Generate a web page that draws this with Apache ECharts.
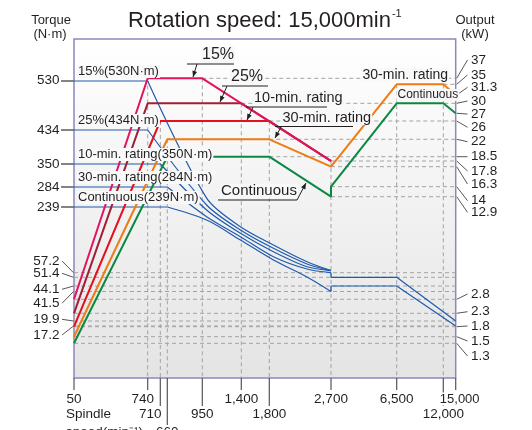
<!DOCTYPE html>
<html>
<head>
<meta charset="utf-8">
<script src="https://cdn.jsdelivr.net/npm/echarts@6/dist/echarts.min.js"></script>
<style>
html, body { margin: 0; padding: 0; background: #fff; }
#main { width: 532px; height: 430px; }
</style>
</head>
<body>
<div id="main"></div>
<script>
// ticks (spindle speed min-1, torque N·m, output kW)
var speedTicks = [50, 740, 710, 660, 950, 1400, 1800, 2700, 6500, 12000, 15000];
var torqueTicks = [530, 434, 350, 284, 239, 57.2, 51.4, 44.1, 41.5, 19.9, 17.2];
var outputTicks = [37, 35, 31.3, 30, 27, 26, 22, 18.5, 17.8, 16.3, 14, 12.9, 2.8, 2.3, 1.8, 1.5, 1.3];

var ratingNames = ['15%', '25%', '10-min. rating', '30-min. rating', 'Continuous'];

// output curves [speed, kW]
var output15 = [[50, 2.8], [740, 37], [950, 37], [2700, 17.8]];
var output25 = [[50, 2.3], [740, 30], [1400, 30], [2700, 17.8]];
var output10min = [[50, 1.8], [710, 26], [1800, 26], [2700, 17.8]];
var output30min = [[50, 1.5], [660, 22], [1800, 22], [2700, 16.3], [6500, 35], [12000, 35], [15000, 31.3]];
var outputCont = [[50, 1.3], [660, 18.5], [1800, 18.5], [2700, 12.9], [2700, 14], [6500, 30], [12000, 30], [15000, 27]];

// torque curves [speed, N·m], low winding
var torque15 = [[50, 530], [740, 530], [1000, 259], [1390, 184.5], [1860, 134], [2350, 87.6], [2700, 63]];
var torque25 = [[50, 434], [740, 434], [1000, 243.5], [1390, 175.4], [1860, 124.7], [2350, 81.3], [2700, 63]];
var torque10min = [[50, 350], [710, 350], [1000, 230.7], [1390, 166.2], [1860, 115.3], [2350, 73.8], [2700, 63]];
var torque30min = [[50, 284], [660, 284], [1000, 212.2], [1390, 156.8], [1860, 101.5], [2350, 67.5], [2700, 57.2]];
var torqueCont = [[50, 239], [660, 239], [1000, 203], [1390, 147.7], [1860, 92.3], [2350, 51.8], [2700, 41.5]];
// high winding
var torque30minHigh = [[2700, 57.2], [2700, 51.4], [6500, 51.4], [15000, 19.9]];
var torqueContHigh = [[2700, 41.5], [2700, 44.1], [6500, 44.1], [15000, 17.2]];

// dashed guides
var outputGuides = [[950, 37], [12000, 35], [1400, 30], [1800, 26], [1800, 22], [1800, 18.5], [2700, 17.8], [2700, 16.3], [2700, 14], [2700, 12.9], [50, 2.8], [50, 2.3], [50, 1.8], [50, 1.5], [50, 1.3]];
var torqueGuides = [57.2, 51.4, 44.1, 41.5, 19.9, 17.2];
var speedGuides = [[740, 37], [710, 26], [660, 22], [950, 37], [1400, 30], [1800, 26], [2700, 17.8], [6500, 35], [12000, 35]];

// the chart is not to scale: where each tick sits on the frame
var speedSlot = [0, 73.7, 86.3, 93.3, 128.3, 167.3, 195.3, 257, 322.7, 369.3, 381.7];
var torqueSlot = [297, 248, 214, 191, 171, 105.3, 100.7, 92, 86.5, 57, 52];
var outputSlot = [299.7, 293.7, 283, 274.7, 264.7, 257, 238.7, 221.3, 217, 211.3, 191.3, 181.3, 78.7, 64.7, 51.3, 41.3, 34.7];

// label placement
var speedRow = [0, 0, 1, 2, 1, 0, 1, 0, 0, 1, 0];
var speedDx = [0, -5, -10, 0, 0, 0, 0, 0, 0, 0, 4];
var torqueLabelY = [80.7, 130, 164, 187, 207, 261, 273.3, 289.3, 303.3, 319.3, 335];
var outputLabelY = [60, 75, 87.3, 101, 114, 127.3, 141.7, 156.7, 171, 184, 200.7, 212.3, 294, 311.7, 326, 341, 356];

var C = {
	p15: '#e3135e', p25: '#a21f33', p10: '#e5101c', p30: '#ef7b12', pc: '#0b8842',
	blue: '#1f5bad', guide: '#a3a3a3', ink: '#231f20', lead: '#444'
};
var SANS = '"Liberation Sans", Arial, sans-serif';
var NARROW = '"Liberation Sans Narrow", "Liberation Sans", sans-serif';

function place(v, ticks, slots, from) {
	var i = ticks.indexOf(v);
	if (i >= 0) return slots[i];
	for (var k = from; k < ticks.length - 1; k++) {
		var a = ticks[k], b = ticks[k + 1];
		if ((v - a) * (v - b) <= 0) return slots[k] + (v - a) / (b - a) * (slots[k + 1] - slots[k]);
	}
	return null;
}
function sx(s) { return place(s, speedTicks, speedSlot, 3); }
function ty(t) { return place(t, torqueTicks, torqueSlot, 0); }
function oy(p) { return place(p, outputTicks, outputSlot, 0); }
function pts(arr, f) {
	return arr.map(function (d) { return [sx(d[0]), f(d[1])]; });
}

var series = [];
function addLine(data, color, width, extra) {
	var s = {
		type: 'line', data: data, symbol: 'none', silent: true, animation: false,
		lineStyle: { color: color, width: width }, z: 3
	};
	for (var k in extra) s[k] = extra[k];
	series.push(s);
}
function addGuide(data) {
	addLine(data, C.guide, 1, { z: 1, lineStyle: { color: C.guide, width: 1, type: [4, 3] } });
}

outputGuides.forEach(function (g) { addGuide([[sx(g[0]), oy(g[1])], [sx(15000), oy(g[1])]]); });
torqueGuides.forEach(function (t) { addGuide([[sx(50), ty(t)], [sx(15000), ty(t)]]); });
speedGuides.forEach(function (g) { addGuide([[sx(g[0]), oy(g[1])], [sx(g[0]), 0]]); });

[torque15, torque25, torque10min, torque30min, torqueCont].forEach(function (c) {
	addLine(pts(c.slice(0, 2), ty), C.blue, 1.2);
	addLine(pts(c.slice(1), ty), C.blue, 1.2, { smooth: 0.3 });
});
addLine(pts(torque30minHigh, ty), C.blue, 1.2);
addLine(pts(torqueContHigh, ty), C.blue, 1.2);

addLine(pts(outputCont, oy), C.pc, 2);
addLine(pts(output30min, oy), C.p30, 2);
addLine(pts(output10min, oy), C.p10, 2);
addLine(pts(output25, oy), C.p25, 2);
addLine(pts(output15, oy), C.p15, 2);

var chart = echarts.init(document.getElementById('main'));
chart.setOption({
	animation: false,
	grid: {
		left: 74, top: 39, width: 381.7, height: 339, show: true,
		borderColor: '#8d87ba', borderWidth: 1.5,
		backgroundColor: new echarts.graphic.LinearGradient(0, 0, 0, 1, [
			{ offset: 0, color: '#ffffff' }, { offset: 1, color: '#e4e4e4' }
		])
	},
	xAxis: { type: 'value', min: 0, max: 381.7, show: false },
	yAxis: { type: 'value', min: 0, max: 339, show: false },
	series: series
});

// ---- text, ticks and leaders
function px(x, y) { return chart.convertToPixel({ gridIndex: 0 }, [x, y]); }
var g = [];
function txt(str, x, y, font, align, extra) {
	var st = { text: str, font: font, fill: C.ink, align: align || 'left', verticalAlign: 'middle' };
	for (var k in extra) st[k] = extra[k];
	g.push({ type: 'text', x: x, y: y, z: 100, silent: true, style: st });
}
function seg(x1, y1, x2, y2, color, w, z) {
	g.push({ type: 'line', z: z || 99, silent: true, shape: { x1: x1, y1: y1, x2: x2, y2: y2 },
		style: { stroke: color || C.lead, lineWidth: w || 1 } });
}
function arrow(x1, y1, x2, y2) {
	seg(x1, y1, x2, y2, C.ink, 1, 101);
	var a = Math.atan2(y2 - y1, x2 - x1), L = 6, W = 2.4;
	var bx = x2 - L * Math.cos(a), by = y2 - L * Math.sin(a);
	g.push({ type: 'polygon', z: 101, silent: true, shape: { points: [[x2, y2],
		[bx + W * Math.sin(a), by - W * Math.cos(a)], [bx - W * Math.sin(a), by + W * Math.cos(a)]] },
		style: { fill: C.ink } });
}
function measure(str, font) {
	var c = measure.c || (measure.c = document.createElement('canvas').getContext('2d'));
	c.font = font;
	return c.measureText(str).width;
}

// title
var tFont = '22px ' + SANS;
var tMain = 'Rotation speed: 15,000min';
txt(tMain, 128, 21, tFont);
txt('-1', 128 + measure(tMain, tFont) + 1, 14, '11px ' + SANS);
txt('Torque', 51, 20.5, '13px ' + SANS, 'center');
txt('(N·m)', 50, 34, '13px ' + SANS, 'center');
txt('Output', 475, 20.5, '13px ' + SANS, 'center');
txt('(kW)', 475, 34, '13px ' + SANS, 'center');

// spindle speed axis
var rowY = [399, 414.5, 432], tickEnd = [390, 406, 430];
speedTicks.forEach(function (s, i) {
	var p = px(sx(s), 0);
	seg(p[0], p[1], p[0], tickEnd[speedRow[i]], '#555', 1.2);
	var big = s === 15000;
	txt(s.toLocaleString('en-US'), p[0] + speedDx[i], rowY[speedRow[i]],
		big ? '13px ' + NARROW : '13.5px ' + SANS, 'center', { backgroundColor: '#fff', padding: [0, 1] });
});
txt('Spindle', 66, 414.5, '13.5px ' + SANS);
txt('speed(min⁻¹)', 66, 432, '13.5px ' + SANS);

// torque axis labels
torqueTicks.forEach(function (t, i) {
	var p = px(0, ty(t));
	var ly = torqueLabelY[i];
	if (i < 5) seg(61, p[1], p[0], p[1], '#666', 1.6);
	else seg(62, ly, p[0] - 0.5, p[1], C.lead, 0.9);
	txt(String(t), 59.5, ly, '13.5px ' + SANS, 'right');
});

// output axis labels
outputTicks.forEach(function (o, i) {
	var p = px(sx(15000), oy(o));
	var ly = outputLabelY[i];
	seg(p[0] + 1, p[1], 467.5, ly, C.lead, 0.9);
	txt(String(o), 471, ly, '13.5px ' + SANS);
});

// rating labels on the torque lines
[torque15, torque25, torque10min, torque30min, torqueCont].forEach(function (c, i) {
	var p = px(0, ty(c[0][1]));
	txt(ratingNames[i] + '(' + c[0][1] + 'N·m)', 77, p[1] - 9.5, '13px ' + NARROW, 'left',
		{ backgroundColor: '#f9f9f9', padding: [0, 1] });
});

// callouts
var callouts = [
	{ t: '15%', x: 201, y: 55, f: '16px ' + SANS, ul: [187, 234, 64], ar: [197, 64, 193, 77] },
	{ t: '25%', x: 230, y: 77, f: '16px ' + SANS, ul: [222, 268, 86], ar: [227, 86, 220, 102] },
	{ t: '10-min. rating', x: 253, y: 98, f: '14.5px ' + NARROW, ul: [246, 327, 107], ar: [253, 107, 247, 120] },
	{ t: '30-min. rating', x: 281.5, y: 117.5, f: '14.5px ' + NARROW, ul: [275, 353, 126.5], ar: [281, 127, 275, 138] },
	{ t: 'Continuous', x: 220, y: 191, f: '15px ' + SANS, ul: [218, 297, 200], ar: [297, 200, 306, 183] }
];
callouts.forEach(function (c) {
	txt(c.t, c.x, c.y, c.f, 'left', { backgroundColor: '#f8f8f8', padding: [0, 1] });
	seg(c.ul[0], c.ul[2], c.ul[1], c.ul[2], C.ink, 1, 101);
	arrow(c.ar[0], c.ar[1], c.ar[2], c.ar[3]);
});
txt('30-min. rating', 361.5, 75, '14px ' + SANS, 'left', { backgroundColor: '#f9f9f9', padding: [0, 1] });
txt('Continuous', 396.5, 95, '12px ' + NARROW, 'left', { backgroundColor: '#f7f7f7', padding: [0, 1] });

chart.setOption({ graphic: g });
</script>
</body>
</html>
